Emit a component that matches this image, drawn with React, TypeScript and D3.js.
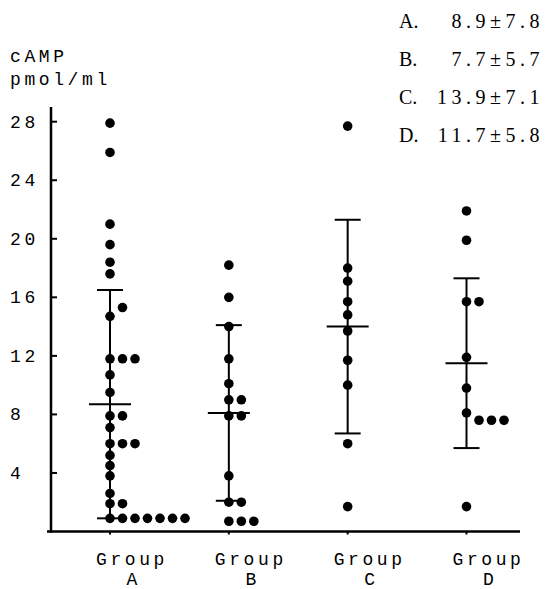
import React, { useEffect, useRef } from "react";
import * as d3 from "d3";

// groups + values (order = order the dots get placed)
const groups = ["A", "B", "C", "D"];
const valuesA = [27.9, 25.9, 21.0, 19.6, 18.4, 17.6, 14.7, 15.3, 11.8, 11.8, 11.8, 10.7, 9.5, 7.9, 7.9, 7.1, 6.0, 6.0, 6.0, 5.2, 4.5, 3.8, 2.6, 1.9, 1.9, 0.9, 0.9, 0.9, 0.9, 0.9, 0.9, 0.9];
const valuesB = [18.2, 16.0, 14.0, 11.8, 10.1, 9.0, 9.0, 7.9, 7.9, 3.8, 2.0, 2.0, 0.7, 0.7, 0.7];
const valuesC = [27.7, 18.0, 17.1, 15.7, 14.8, 13.7, 11.7, 10.0, 6.0, 1.7];
const valuesD = [21.9, 19.9, 15.7, 15.7, 11.9, 9.8, 8.1, 7.6, 7.6, 7.6, 1.7];

// mean / sd bars as drawn on the figure
const barMeans = [8.7, 8.1, 14.0, 11.5];
const barSds = [7.8, 6.0, 7.3, 5.8];

// legend text
const legendLabels = ["A.", "B.", "C.", "D."];
const legendValues = ["8.9±7.8", "7.7±5.7", "13.9±7.1", "11.7±5.8"];

const yTicks = [4, 8, 12, 16, 20, 24, 28];

function App() {
  const ref = useRef(null);
  const width = 545;
  const height = 589;

  useEffect(() => {
    drawChart();
  });

  function drawChart() {
    const svg = d3.select(ref.current);
    svg.selectAll("*").remove();

    const mono = "'Liberation Mono', 'DejaVu Sans Mono', monospace";
    const serif = "'Liberation Serif', 'DejaVu Serif', serif";

    const y = d3.scaleLinear().domain([0, 28]).range([531.5, 121.7]);
    const x = d3.scalePoint().domain(groups).range([110, 466.5]);

    // axes
    svg
      .append("line")
      .attr("x1", 51)
      .attr("x2", 51)
      .attr("y1", 107)
      .attr("y2", y(0) + 1)
      .attr("stroke", "#000")
      .attr("stroke-width", 2.5);
    svg
      .append("line")
      .attr("x1", 47)
      .attr("x2", 520)
      .attr("y1", y(0))
      .attr("y2", y(0))
      .attr("stroke", "#000")
      .attr("stroke-width", 2.5);

    svg
      .selectAll(".ytick")
      .data(yTicks)
      .enter()
      .append("line")
      .attr("x1", 51)
      .attr("x2", 57)
      .attr("y1", (d) => y(d))
      .attr("y2", (d) => y(d))
      .attr("stroke", "#000")
      .attr("stroke-width", 2);

    svg
      .selectAll(".ylabel")
      .data(yTicks)
      .enter()
      .append("text")
      .attr("x", 10)
      .attr("y", (d) => y(d) + 6)
      .style("font-family", mono)
      .style("font-size", "18px")
      .style("letter-spacing", "3.6px")
      .text((d) => d);

    svg
      .selectAll(".xtick")
      .data(groups)
      .enter()
      .append("line")
      .attr("x1", (d) => x(d))
      .attr("x2", (d) => x(d))
      .attr("y1", y(0))
      .attr("y2", y(0) + 3)
      .attr("stroke", "#000")
      .attr("stroke-width", 2);

    // group labels
    const lab = svg.selectAll(".glabel").data(groups).enter();
    lab
      .append("text")
      .attr("x", (d) => x(d) + 22)
      .attr("y", 565)
      .attr("text-anchor", "middle")
      .style("font-family", mono)
      .style("font-size", "18px")
      .style("letter-spacing", "3.6px")
      .text("Group");
    lab
      .append("text")
      .attr("x", (d) => x(d) + 22)
      .attr("y", 585)
      .attr("text-anchor", "middle")
      .style("font-family", mono)
      .style("font-size", "18px")
      .text((d) => d);

    // y title
    svg
      .append("text")
      .attr("x", 10)
      .attr("y", 62)
      .style("font-family", mono)
      .style("font-size", "18px")
      .style("letter-spacing", "3.6px")
      .text("cAMP");
    svg
      .append("text")
      .attr("x", 10)
      .attr("y", 85)
      .style("font-family", mono)
      .style("font-size", "18px")
      .style("letter-spacing", "3.6px")
      .text("pmol/ml");

    // error bars
    groups.forEach((g, i) => {
      const cx = x(g);
      const top = y(barMeans[i] + barSds[i]);
      const bot = y(barMeans[i] - barSds[i]);
      const mid = y(barMeans[i]);
      const bar = svg.append("g").attr("stroke", "#000").attr("stroke-width", 2);
      bar.append("line").attr("x1", cx).attr("x2", cx).attr("y1", top).attr("y2", bot);
      bar.append("line").attr("x1", cx - 13).attr("x2", cx + 13).attr("y1", top).attr("y2", top);
      bar.append("line").attr("x1", cx - 13).attr("x2", cx + 13).attr("y1", bot).attr("y2", bot);
      bar.append("line").attr("x1", cx - 21).attr("x2", cx + 21).attr("y1", mid).attr("y2", mid);
    });

    // dots, pushed to the right when they would overlap
    const all = [valuesA, valuesB, valuesC, valuesD];
    const r = 4.8;
    const slotW = 12.5;
    groups.forEach((g, i) => {
      const placed = [];
      all[i].forEach((v) => {
        const py = y(v);
        let slot = 0;
        while (placed.some((p) => p.slot === slot && Math.abs(p.py - py) < 9.5)) slot++;
        placed.push({ slot, py });
      });
      svg
        .selectAll(".dot" + g)
        .data(placed)
        .enter()
        .append("circle")
        .attr("cx", (d) => x(g) + d.slot * slotW)
        .attr("cy", (d) => d.py)
        .attr("r", r)
        .style("fill", "#000");
    });

    // legend
    legendLabels.forEach((l, i) => {
      const ly = 28 + i * 38;
      svg
        .append("text")
        .attr("x", 399)
        .attr("y", ly)
        .style("font-family", serif)
        .style("font-size", "20px")
        .text(l);
      svg
        .append("text")
        .attr("x", 544)
        .attr("y", ly)
        .attr("text-anchor", "end")
        .style("font-family", serif)
        .style("font-size", "20px")
        .style("letter-spacing", "4.5px")
        .text(legendValues[i]);
    });
  }

  return (
    <svg
      ref={ref}
      width={width}
      height={height}
      style={{ position: "absolute", left: 0, top: 0, background: "#fff" }}
    />
  );
}

export default App;
